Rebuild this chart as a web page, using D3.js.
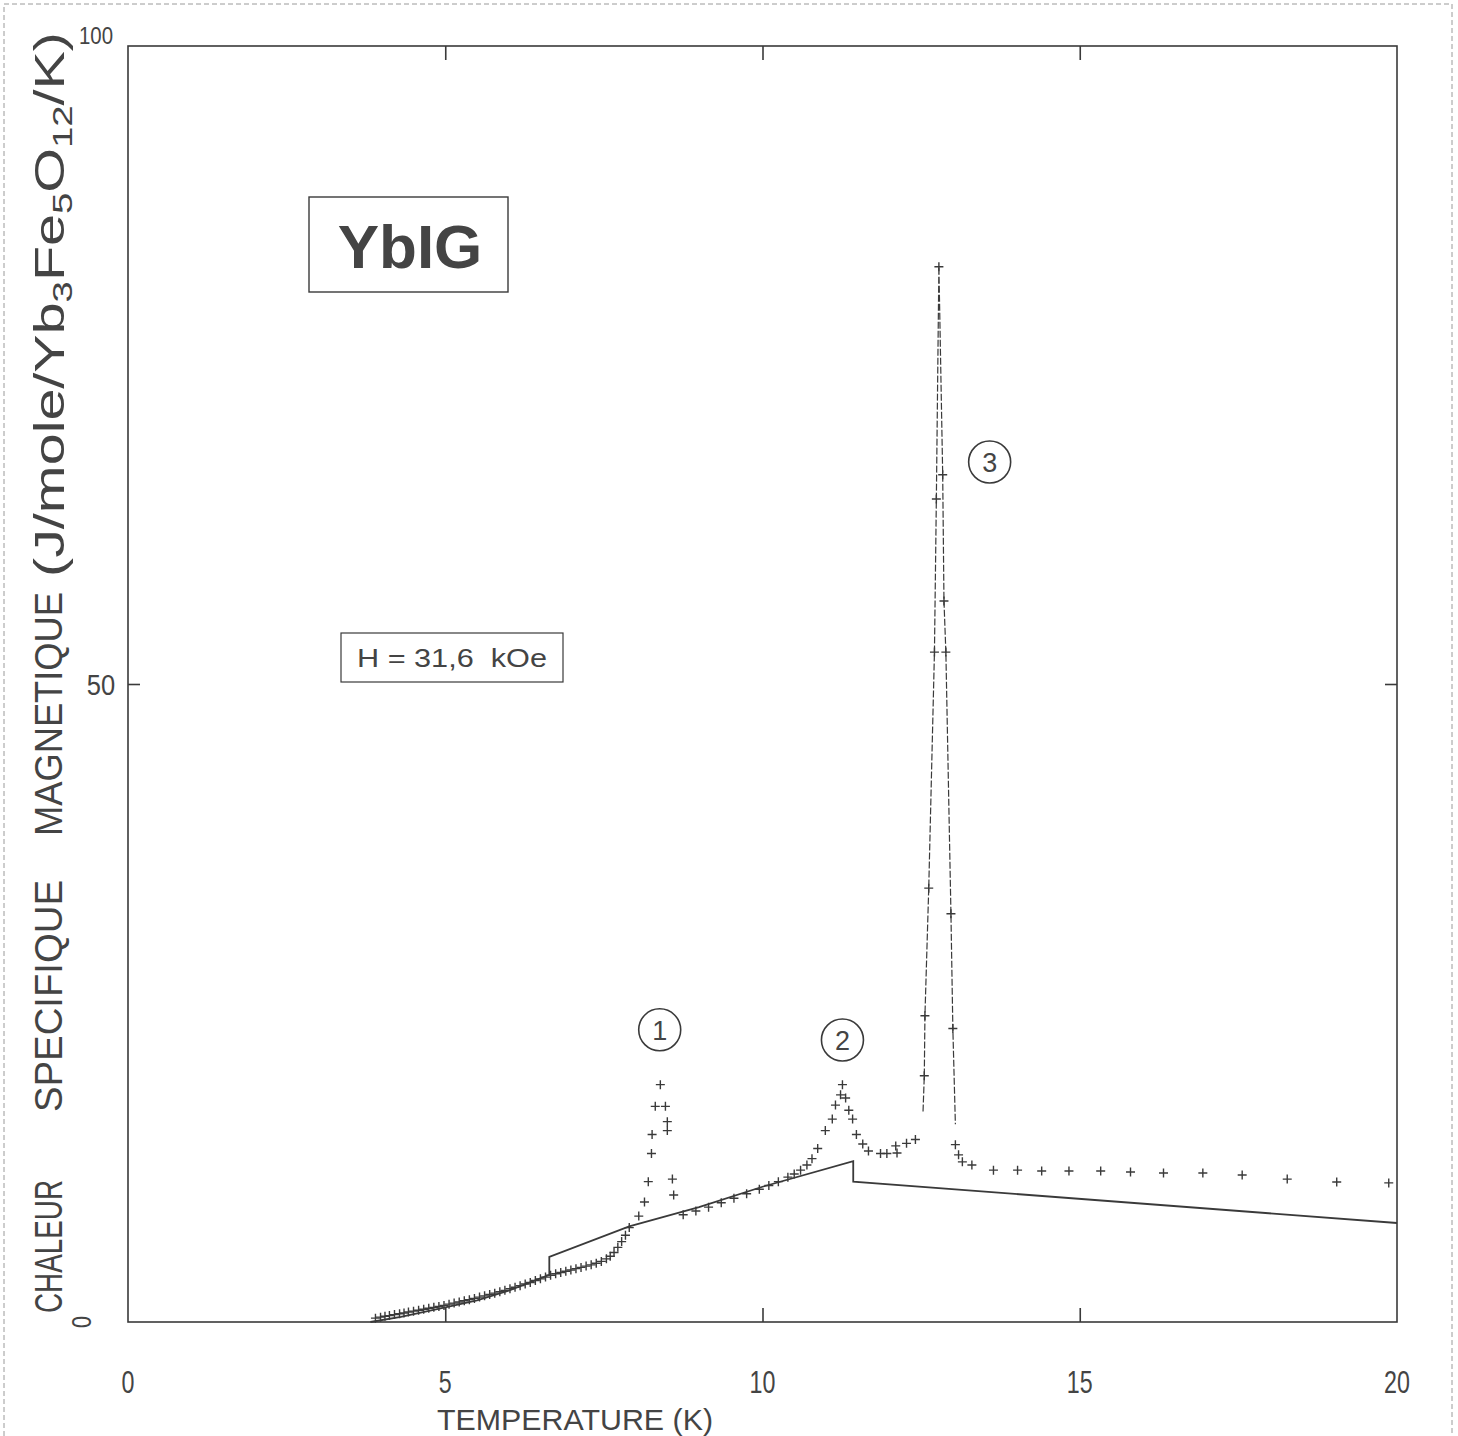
<!DOCTYPE html>
<html><head><meta charset="utf-8">
<script src="https://cdn.jsdelivr.net/npm/d3@7"></script>
<style>
html,body{margin:0;padding:0;background:#fff;}
svg{display:block;}
text{font-family:"Liberation Sans","Noto Sans",sans-serif;fill:#444;}
</style></head>
<body>
<svg id="chart" width="1458" height="1436"></svg>
<script>
// ---------- data ----------
const xTickValues = [0, 5, 10, 15, 20];
const xTickLabels = ["0", "5", "10", "15", "20"];
const yTickValues = [0, 50, 100];
const yTickLabels = ["0", "50", "100"];

// measured points (crosses): temperature (K) and magnetic specific heat
const pointT = [3.90,3.98,4.05,4.12,4.20,4.28,4.35,4.42,4.50,4.58,4.66,4.74,4.82,4.90,4.98,5.06,5.14,5.22,5.30,5.38,
  5.46,5.54,5.62,5.70,5.78,5.86,5.94,6.02,6.10,6.18,6.26,6.34,6.42,6.50,6.58,6.66,6.74,6.82,6.90,6.98,
  7.06,7.14,7.22,7.30,7.38,7.46,7.54,7.60,7.66,7.72,7.78,7.84,7.90,
  8.05,8.14,8.20,8.25,8.26,8.31,8.39,8.47,8.50,8.50,8.58,8.60,
  8.75,8.95,9.15,9.35,9.55,9.75,9.95,10.10,10.25,10.40,10.50,10.60,10.70,10.78,
  10.87,10.99,11.10,11.15,11.23,11.26,11.31,11.36,11.42,11.48,11.58,11.67,11.86,11.96,12.10,12.12,12.27,12.41,
  12.55,12.56,12.62,12.71,12.74,12.78,12.84,12.86,12.89,12.97,13.00,13.04,13.09,13.15,13.30,
  13.64,14.02,14.40,14.83,15.33,15.80,16.32,16.94,17.56,18.27,19.05,19.87];
const pointC = [0.30,0.38,0.45,0.50,0.58,0.65,0.70,0.78,0.85,0.92,1.00,1.08,1.15,1.22,1.30,1.40,1.48,1.57,1.66,1.75,
  1.85,1.95,2.05,2.15,2.26,2.37,2.48,2.60,2.72,2.85,2.98,3.10,3.25,3.38,3.52,3.66,3.78,3.88,3.98,4.08,
  4.18,4.28,4.38,4.48,4.60,4.75,4.95,5.15,5.45,5.85,6.30,6.80,7.40,
  8.3,9.4,11.0,13.2,14.7,16.9,18.6,16.9,15.7,15.0,11.2,9.95,
  8.4,8.7,9.0,9.35,9.7,10.05,10.4,10.7,11.0,11.35,11.6,11.9,12.3,12.8,
  13.6,15.0,15.9,17.0,17.8,18.6,17.55,16.6,15.9,14.7,13.95,13.4,13.2,13.2,13.8,13.25,14.0,14.3,
  19.3,24.0,34.0,52.5,64.5,82.7,66.4,56.5,52.5,32.0,23.0,13.9,13.1,12.55,12.3,
  11.9,11.9,11.83,11.83,11.83,11.76,11.68,11.68,11.52,11.2,10.97,10.9];

// dotted line drawn through the sharp peak 3
const peakLineT = [12.53,12.55,12.56,12.62,12.71,12.74,12.78,12.84,12.86,12.89,12.97,13.00,13.04];
const peakLineC = [16.5,19.3,24.0,34.0,52.5,64.5,82.7,66.4,56.5,52.5,32.0,23.0,15.5];

// solid reference curve
const curveT = [3.82,4.30,5.00,5.50,6.00,6.64,6.64,7.90,9.00,10.00,11.43,11.43,20.00];
const curveC = [0.00,0.40,1.15,1.70,2.45,3.70,5.10,7.50,9.00,10.60,12.60,11.00,7.76];

// circled transition labels
const markerLabels = ["1", "2", "3"];
const markerT = [8.38, 11.26, 13.58];
const markerC = [22.9, 22.1, 67.4];

// ---------- drawing ----------
const svg = d3.select("#chart");
const ink = "#3a3a3a";
const x = d3.scaleLinear().domain([0, 20]).range([128, 1397]);
const y = d3.scaleLinear().domain([0, 100]).range([1322, 46]);

// faint outer page border
svg.append("rect").attr("x", 4).attr("y", 4).attr("width", 1448).attr("height", 1440)
  .attr("fill", "none").attr("stroke", "#9a9a9a").attr("stroke-width", 1).attr("stroke-dasharray", "5,3");

// plot frame
svg.append("rect").attr("x", x(0)).attr("y", y(100))
  .attr("width", x(20) - x(0)).attr("height", y(0) - y(100))
  .attr("fill", "none").attr("stroke", ink).attr("stroke-width", 1.6);

// inner ticks
const innerX = [5, 10, 15];
const innerY = [50];
function noLabels(g){ g.select(".domain").remove(); g.selectAll(".tick line").attr("stroke", ink).attr("stroke-width", 1.6); g.selectAll(".tick text").remove(); }
svg.append("g").attr("transform", `translate(0,${y(0)})`)
  .call(d3.axisTop(x).tickValues(innerX).tickSize(14)).call(noLabels);
svg.append("g").attr("transform", `translate(0,${y(100)})`)
  .call(d3.axisBottom(x).tickValues(innerX).tickSize(14)).call(noLabels);
svg.append("g").attr("transform", `translate(${x(0)},0)`)
  .call(d3.axisRight(y).tickValues(innerY).tickSize(12)).call(noLabels);
svg.append("g").attr("transform", `translate(${x(20)},0)`)
  .call(d3.axisLeft(y).tickValues(innerY).tickSize(12)).call(noLabels);

// x tick labels
svg.append("g").selectAll("text").data(xTickValues).join("text")
  .attr("transform", d => `translate(${x(d)},1393) scale(0.75,1)`)
  .attr("text-anchor", "middle").attr("font-size", 31)
  .text((d, i) => xTickLabels[i]);

// y tick labels
svg.append("text").attr("transform", `translate(${x(0) - 47},${y(yTickValues[0])}) rotate(-90) scale(0.8,1)`)
  .attr("text-anchor", "middle").attr("dy", "0.35em").attr("font-size", 28).text(yTickLabels[0]);
svg.append("text").attr("transform", `translate(${x(0) - 27},${y(yTickValues[1]) + 11}) scale(0.85,1)`)
  .attr("text-anchor", "middle").attr("font-size", 30).text(yTickLabels[1]);
svg.append("text").attr("transform", `translate(${x(0) - 32},${y(yTickValues[2]) - 2}) scale(0.85,1)`)
  .attr("text-anchor", "middle").attr("font-size", 24).text(yTickLabels[2]);

// x axis title
svg.append("text").attr("x", 437).attr("y", 1430).attr("font-size", 30)
  .attr("textLength", 276).attr("lengthAdjust", "spacingAndGlyphs")
  .text("TEMPERATURE (K)");

// y axis title (pieces, rotated)
function yPiece(txt, yStart, len, size){
  svg.append("text").attr("transform", `translate(62,${yStart}) rotate(-90)`)
    .attr("font-size", size).attr("textLength", len).attr("lengthAdjust", "spacingAndGlyphs").text(txt);
}
yPiece("CHALEUR", 1313, 133, 38);
yPiece("SPECIFIQUE", 1112, 232, 38);
yPiece("MAGNETIQUE", 836, 244, 38);
const unit = svg.append("text").attr("transform", `translate(64,577) rotate(-90)`)
  .attr("font-size", 42).attr("textLength", 545).attr("lengthAdjust", "spacingAndGlyphs");
unit.append("tspan").text("(J/mole/Yb");
unit.append("tspan").attr("font-size", 28).attr("dy", 8).text("3");
unit.append("tspan").attr("dy", -8).text("Fe");
unit.append("tspan").attr("font-size", 28).attr("dy", 8).text("5");
unit.append("tspan").attr("dy", -8).text("O");
unit.append("tspan").attr("font-size", 28).attr("dy", 8).text("12");
unit.append("tspan").attr("dy", -8).text("/K)");

// solid curve
const curvePts = curveT.map((t, i) => [t, curveC[i]]);
svg.append("path").datum(curvePts)
  .attr("d", d3.line().x(d => x(d[0])).y(d => y(d[1])))
  .attr("fill", "none").attr("stroke", ink).attr("stroke-width", 1.8);

// dotted line through peak 3
const peakPts = peakLineT.map((t, i) => [t, peakLineC[i]]);
svg.append("path").datum(peakPts)
  .attr("d", d3.line().x(d => x(d[0])).y(d => y(d[1])))
  .attr("fill", "none").attr("stroke", ink).attr("stroke-width", 1.2).attr("stroke-dasharray", "7,2");

// measured points as small crosses
const pts = pointT.map((t, i) => [t, pointC[i]]);
svg.append("g").selectAll("path").data(pts).join("path")
  .attr("transform", d => `translate(${x(d[0])},${y(d[1])})`)
  .attr("d", "M-4.5,0L4.5,0M0,-4.5L0,4.5")
  .attr("stroke", ink).attr("stroke-width", 1.4).attr("fill", "none");

// circled labels
const mk = svg.append("g").selectAll("g").data(markerLabels).join("g")
  .attr("transform", (d, i) => `translate(${x(markerT[i])},${y(markerC[i])})`);
mk.append("circle").attr("r", 21).attr("fill", "none").attr("stroke", ink).attr("stroke-width", 1.6);
mk.append("text").attr("text-anchor", "middle").attr("dy", "0.36em").attr("font-size", 27).text(d => d);

// title box
svg.append("rect").attr("x", 309).attr("y", 197).attr("width", 199).attr("height", 95)
  .attr("fill", "none").attr("stroke", ink).attr("stroke-width", 1.4);
svg.append("text").attr("x", 410).attr("y", 268).attr("text-anchor", "middle")
  .attr("font-size", 62).attr("font-weight", "bold").text("YbIG");

// field box
svg.append("rect").attr("x", 341).attr("y", 633).attr("width", 222).attr("height", 49)
  .attr("fill", "none").attr("stroke", ink).attr("stroke-width", 1.2);
svg.append("text").attr("x", 357).attr("y", 667).attr("font-size", 26)
  .attr("textLength", 190).attr("lengthAdjust", "spacingAndGlyphs")
  .attr("xml:space", "preserve").text("H = 31,6  kOe");
</script>
</body></html>
